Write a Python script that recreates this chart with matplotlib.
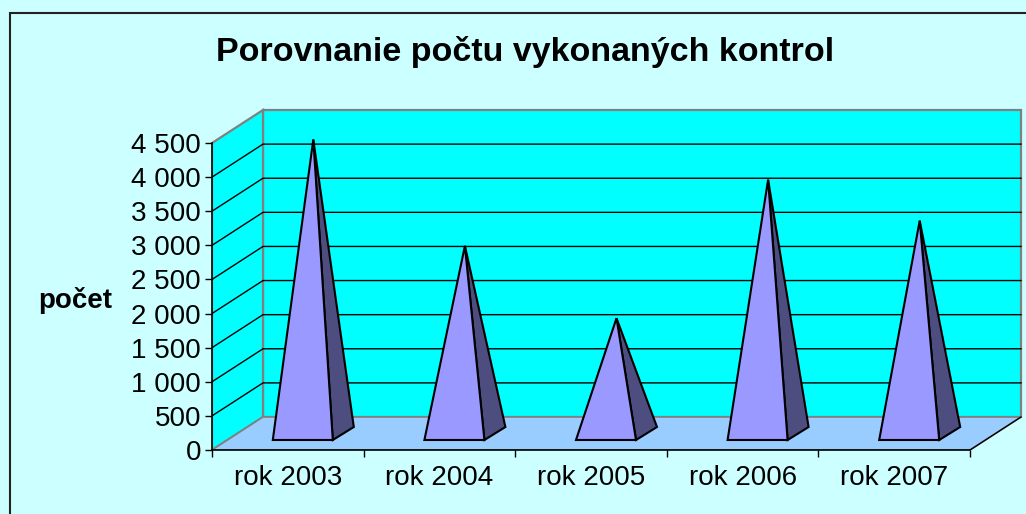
import matplotlib
matplotlib.use("Agg")
import matplotlib.pyplot as plt
from matplotlib.patches import Polygon, Rectangle

years = ["rok 2003", "rok 2004", "rok 2005", "rok 2006", "rok 2007"]
counts = [4310, 2750, 1690, 3720, 3120]
y_ticks = [0, 500, 1000, 1500, 2000, 2500, 3000, 3500, 4000, 4500]
y_tick_labels = ["0", "500", "1 000", "1 500", "2 000", "2 500", "3 000", "3 500", "4 000", "4 500"]

W, H = 1026, 514
plt.rcParams['font.family'] = ['Liberation Sans', 'DejaVu Sans']

fig = plt.figure(figsize=(W / 100, H / 100), dpi=100, facecolor='#CCFFFF')
# outer frame runs off the right and bottom of the picture
fig.add_artist(Rectangle((9.5 / W, -0.01), 1.02 - 9.5 / W, 1.01 - 12.5 / H, transform=fig.transFigure,
                         fill=False, edgecolor='#222222', lw=1.5))

# axes rectangle in pixels, front plane starts at lower left corner
x0, x1, y0, y1 = 212, 1024, 450, 100
ax = fig.add_axes([x0 / W, 1 - y0 / H, (x1 - x0) / W, (y0 - y1) / H])
px_x = 758 / len(years)          # pixels per category
px_y = 307 / 4500                # pixels per count
ax.set_xlim(0, (x1 - x0) / px_x)
ax.set_ylim(0, (y0 - y1) / px_y)
ax.patch.set_alpha(0)

# depth of the 3d box, in data units
dx = 51 / px_x
dy = 33 / px_y
n = len(years)
top = y_ticks[-1]

# walls and floor
ax.add_patch(Polygon([(dx, dy), (n + dx, dy), (n + dx, top + dy), (dx, top + dy)],
                     fc='#00FFFF', ec='#808080', lw=1.6, zorder=1))
ax.add_patch(Polygon([(0, 0), (dx, dy), (dx, top + dy), (0, top)],
                     fc='#00FFFF', ec='#808080', lw=1.6, zorder=1))
ax.add_patch(Polygon([(0, 0), (n, 0), (n + dx, dy), (dx, dy)],
                     fc='#99CCFF', ec='#808080', lw=1.2, zorder=1))

# gridlines on the walls
for v in y_ticks[1:-1]:
    ax.plot([0, dx, n + dx], [v, v + dy, v + dy], color='black', lw=1.0, zorder=2)
ax.plot([n, n + dx], [0, dy], color='black', lw=1.0, zorder=2)

# pyramids
w = 60 / px_x
pdx = 21 / px_x
pdy = 13 / px_y
gap_y = 10 / px_y
for i, v in enumerate(counts):
    left = i + 0.5 - w / 2 + 15 / px_x
    right = left + w
    apex = (left + w / 2 + pdx / 2, gap_y + pdy / 2 + v)
    ax.add_patch(Polygon([(right, gap_y), (right + pdx, gap_y + pdy), apex],
                         fc='#4D4D80', ec='black', lw=1.5, joinstyle='miter', zorder=3))
    ax.add_patch(Polygon([(left, gap_y), (right, gap_y), apex],
                         fc='#9999FF', ec='black', lw=1.5, joinstyle='miter', zorder=4))

for s in ['top', 'right']:
    ax.spines[s].set_visible(False)
ax.spines['left'].set_bounds(0, top)
ax.spines['bottom'].set_bounds(0, n)
ax.spines['left'].set_linewidth(1.2)
ax.spines['bottom'].set_linewidth(1.2)
ax.spines['left'].set_zorder(5)
ax.spines['bottom'].set_zorder(5)

ax.set_yticks(y_ticks)
ax.set_yticklabels(y_tick_labels, fontsize=20)
ax.tick_params(axis='y', length=5, width=1.0, pad=3, colors='black')
ax.set_xticks(range(n + 1))
ax.set_xticklabels([])
ax.set_xticks([i + 0.5 for i in range(n)], minor=True)
ax.set_xticklabels(years, minor=True, fontsize=20)
ax.tick_params(axis='x', which='major', length=5, width=1.0)
ax.tick_params(axis='x', which='minor', length=0, pad=11)

fig.text(525 / W, 1 - 52 / H, "Porovnanie počtu vykonaných kontrol", ha='center', va='center',
         fontsize=24.5, fontweight='bold', color='black')
fig.text(75.5 / W, 1 - 301 / H, "počet", ha='center', va='center',
         fontsize=20, fontweight='bold', color='black')

fig.savefig("out.png", dpi=100, facecolor=fig.get_facecolor())
